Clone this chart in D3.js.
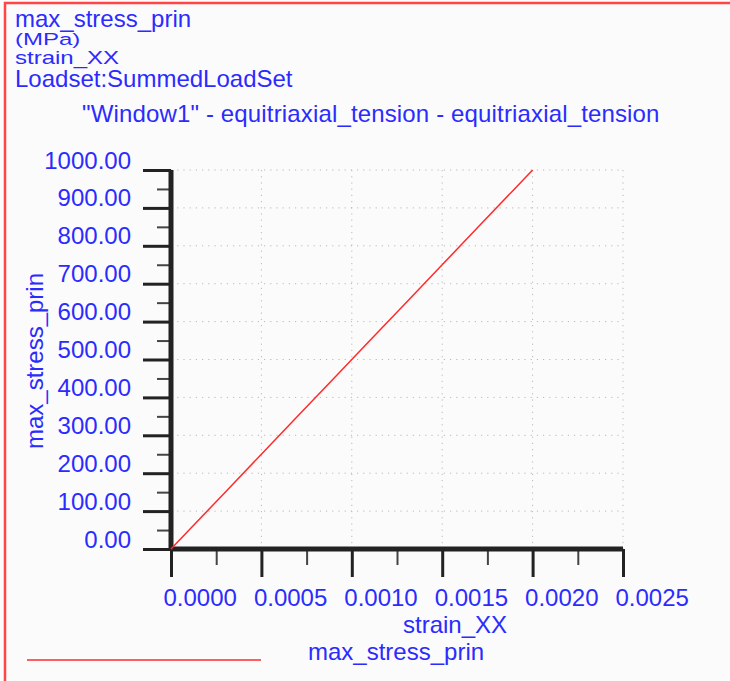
<!DOCTYPE html>
<html>
<head>
<meta charset="utf-8">
<script src="https://cdn.jsdelivr.net/npm/d3@7"></script>
<style>
  body { margin: 0; background: #fbfbfb; }
  svg { display: block; font-family: "Liberation Sans", Arial, sans-serif; }
</style>
</head>
<body>
<script>
    // values
    var strain = [0, 0.0001, 0.0003, 0.0005, 0.0007, 0.0009, 0.0011, 0.0013, 0.0015, 0.0017, 0.0019, 0.002];
    var stress = [0, 50, 150, 250, 350, 450, 550, 650, 750, 850, 950, 1000];
    var yTicks = [0, 100, 200, 300, 400, 500, 600, 700, 800, 900, 1000];
    var yMinor = [50, 150, 250, 350, 450, 550, 650, 750, 850, 950];
    var xTicks = [0, 0.0005, 0.001, 0.0015, 0.002, 0.0025];
    var xMinor = [0.00025, 0.00075, 0.00125, 0.00175, 0.00225];
    var headerLines = ["max_stress_prin", "(MPa)", "strain_XX", "Loadset:SummedLoadSet"];
    var title = "\"Window1\" - equitriaxial_tension - equitriaxial_tension";
    var xTitle = "strain_XX";
    var yTitle = "max_stress_prin";
    var legendName = "max_stress_prin";

    var blue = "#2b2bff";
    var dark = "#222";

    var W = 730, H = 681;
    var margin = {top: 170, left: 171};
    var width = 452, height = 379;

    var svg = d3.select("body").append("svg")
        .attr("width", W)
        .attr("height", H);

    // red frame
    svg.append("path")
        .attr("d", "M5," + H + "V3H" + W)
        .attr("fill", "none")
        .attr("stroke", "#ff4545")
        .attr("stroke-width", 2.5);

    // header text, lines 2 and 3 are squeezed in the original
    var hy = [27, 45, 64, 87];
    var hs = [1, 0.72, 0.75, 1];
    headerLines.forEach(function(t, i) {
        svg.append("text")
            .attr("transform", "translate(15," + hy[i] + ") scale(1," + hs[i] + ")")
            .attr("fill", blue)
            .style("font-size", "24px")
            .text(t);
    });

    svg.append("text")
        .attr("x", 82).attr("y", 122)
        .attr("fill", blue)
        .style("font-size", "24px")
        .style("letter-spacing", "0.15px")
        .text(title);

    var x = d3.scaleLinear().domain([0, 0.0025]).range([0, width]);
    var y = d3.scaleLinear().domain([0, 1000]).range([height, 0]);

    var g = svg.append("g")
        .attr("transform", "translate(" + margin.left + "," + margin.top + ")");

    // dotted grid
    g.append("g").selectAll("line")
        .data(yTicks.slice(1))
        .enter().append("line")
        .attr("x1", 0).attr("x2", width)
        .attr("y1", function(d) { return y(d); })
        .attr("y2", function(d) { return y(d); })
        .attr("stroke", "#b8b8c0")
        .attr("stroke-dasharray", "1.2,5");

    g.append("g").selectAll("line")
        .data(xTicks.slice(1))
        .enter().append("line")
        .attr("x1", function(d) { return x(d); })
        .attr("x2", function(d) { return x(d); })
        .attr("y1", 0).attr("y2", height)
        .attr("stroke", "#b8b8c0")
        .attr("stroke-dasharray", "1.2,5");

    // minor ticks
    g.append("g")
        .call(d3.axisLeft(y).tickValues(yMinor).tickSize(14).tickFormat(""))
        .call(function(a) {
            a.select(".domain").remove();
            a.selectAll("line").attr("stroke", "#444").attr("stroke-width", 2);
        });

    g.append("g")
        .attr("transform", "translate(0," + height + ")")
        .call(d3.axisBottom(x).tickValues(xMinor).tickSize(16).tickFormat(""))
        .call(function(a) {
            a.select(".domain").remove();
            a.selectAll("line").attr("stroke", "#444").attr("stroke-width", 2);
        });

    // main axes
    g.append("g")
        .call(d3.axisLeft(y).tickValues(yTicks).tickSize(28).tickPadding(12)
            .tickFormat(d3.format(".2f")))
        .call(function(a) {
            a.select(".domain").attr("stroke", dark).attr("stroke-width", 5)
                .attr("d", "M0," + height + "V0");
            a.selectAll("line").attr("stroke", dark).attr("stroke-width", 3);
            a.selectAll("text").attr("fill", blue).attr("dy", -2)
                .style("font-size", "24px").style("font-family", null);
        });

    g.append("g")
        .attr("transform", "translate(0," + height + ")")
        .call(d3.axisBottom(x).tickValues(xTicks).tickSize(28)
            .tickFormat(d3.format(".4f")))
        .call(function(a) {
            a.select(".domain").attr("stroke", dark).attr("stroke-width", 5)
                .attr("d", "M0,0H" + width);
            a.selectAll("line").attr("stroke", dark).attr("stroke-width", 3);
            a.selectAll("text").attr("fill", blue)
                .attr("x", -8).attr("y", 57).attr("dy", 0)
                .attr("text-anchor", "start")
                .style("font-size", "24px").style("font-family", null);
        });

    // data line
    var pts = strain.map(function(s, i) { return [s, stress[i]]; });
    g.append("path")
        .datum(pts)
        .attr("fill", "none")
        .attr("stroke", "#ff2a2a")
        .attr("stroke-width", 1.5)
        .attr("d", d3.line()
            .x(function(d) { return x(d[0]); })
            .y(function(d) { return y(d[1]); }));

    // axis titles
    svg.append("text")
        .attr("x", 403).attr("y", 633)
        .attr("fill", blue)
        .style("font-size", "24px")
        .text(xTitle);

    svg.append("text")
        .attr("transform", "translate(43,361) rotate(-90)")
        .attr("text-anchor", "middle")
        .attr("fill", blue)
        .style("font-size", "24px")
        .text(yTitle);

    // legend
    svg.append("line")
        .attr("x1", 27).attr("x2", 261)
        .attr("y1", 660).attr("y2", 660)
        .attr("stroke", "#ff2a2a")
        .attr("stroke-width", 1.5);

    svg.append("text")
        .attr("x", 308).attr("y", 660)
        .attr("fill", blue)
        .style("font-size", "24px")
        .text(legendName);
</script>
</body>
</html>
